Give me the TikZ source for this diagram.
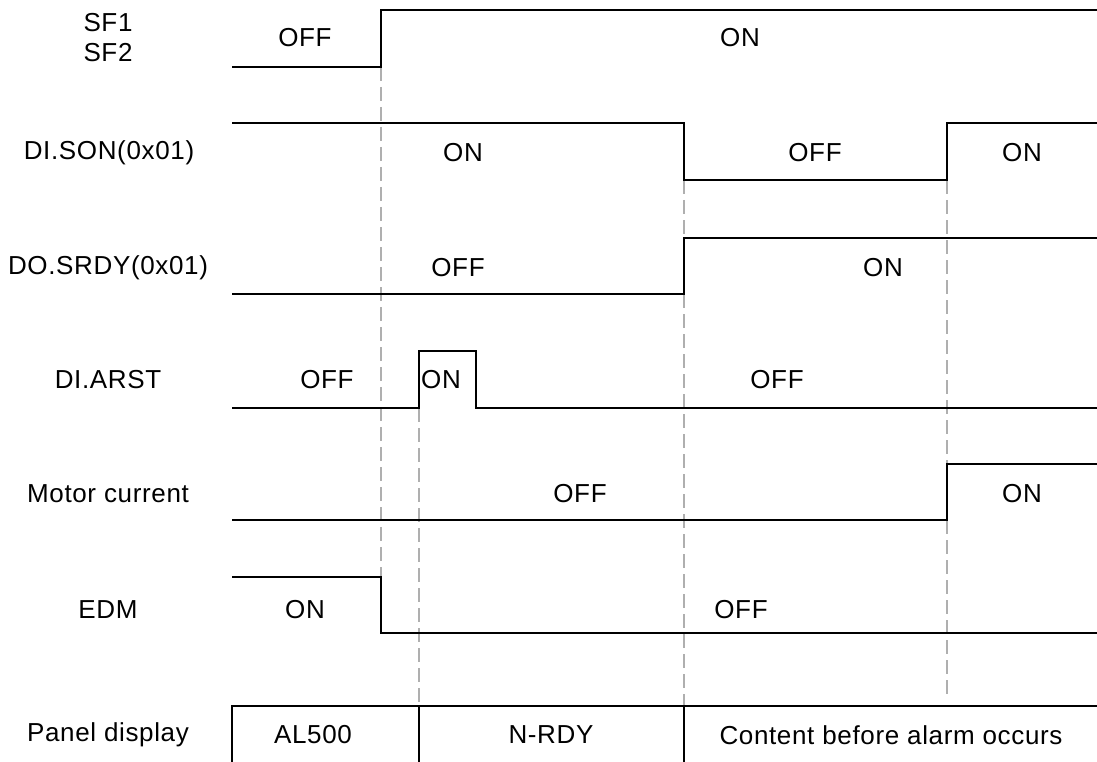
\documentclass[tikz,border=0pt]{standalone}
\usepackage{fontspec}
\setmainfont{Liberation Sans}[LetterSpace=2.5]
\begin{document}
\begin{tikzpicture}[x=1pt,y=-1pt,
  sig/.style={line width=1.8pt, black, line join=miter},
  guide/.style={line width=1.8pt, color={rgb,255:red,175;green,175;blue,175}, dash pattern=on 14pt off 6pt},
  lbl/.style={font=\fontsize{26}{31}\selectfont, inner sep=0pt, anchor=center}]
\useasboundingbox (0,0) rectangle (1097,762);
% guide lines
\draw[guide] (381,67) -- (381,577);
\draw[guide] (419,408) -- (419,706);
\draw[guide] (684,180) -- (684,238);
\draw[guide] (684,294) -- (684,706);
\draw[guide] (947,180) -- (947,464);
\draw[guide] (947,520) -- (947,698);
% signals
\draw[sig] (232,67) -- (381,67) -- (381,10) -- (1097,10);
\draw[sig] (232,123) -- (684,123) -- (684,180) -- (947,180) -- (947,123) -- (1097,123);
\draw[sig] (232,294) -- (684,294) -- (684,238) -- (1097,238);
\draw[sig] (232,408) -- (419,408) -- (419,351) -- (476,351) -- (476,408) -- (1097,408);
\draw[sig] (232,520) -- (947,520) -- (947,464) -- (1097,464);
\draw[sig] (232,577) -- (381,577) -- (381,633) -- (1097,633);
% panel
\draw[sig] (232,762) -- (232,706) -- (1097,706);
\draw[sig] (419,706) -- (419,762);
\draw[sig] (684,706) -- (684,762);
% row labels
\node[lbl] (sf1) at (108,23) {SF1};
\node[lbl] (sf2) at (108,53) {SF2};
\node[lbl] (son) at (109,153) {DI.SON(0x01)};
\node[lbl] (srdy) at (108,268) {DO.SRDY(0x01)};
\node[lbl] (arst) at (108,380) {DI.ARST};
\node[lbl] (mot) at (108,494) {Motor current};
\node[lbl] (edm) at (108,610) {EDM};
\node[lbl] (pan) at (108,735) {Panel display};
% state labels
\node[lbl] (sfoff) at (305,38) {OFF};
\node[lbl] (sfon) at (740,38) {ON};
\node[lbl] (son1) at (463,153) {ON};
\node[lbl] (son2) at (815,153) {OFF};
\node[lbl] (son3) at (1022,153) {ON};
\node[lbl] (srdy1) at (458,268) {OFF};
\node[lbl] (srdy2) at (883,268) {ON};
\node[lbl] (arst1) at (327,380) {OFF};
\node[lbl] (arst2) at (441,380) {ON};
\node[lbl] (arst3) at (777,380) {OFF};
\node[lbl] (mot1) at (580,494) {OFF};
\node[lbl] (mot2) at (1022,494) {ON};
\node[lbl] (edm1) at (305,610) {ON};
\node[lbl] (edm2) at (741,610) {OFF};
\node[lbl] (p1) at (313,735) {AL500};
\node[lbl] (p2) at (551,735) {N-RDY};
\node[lbl] (p3) at (891,735) {Content before alarm occurs};
\end{tikzpicture}
\end{document}
